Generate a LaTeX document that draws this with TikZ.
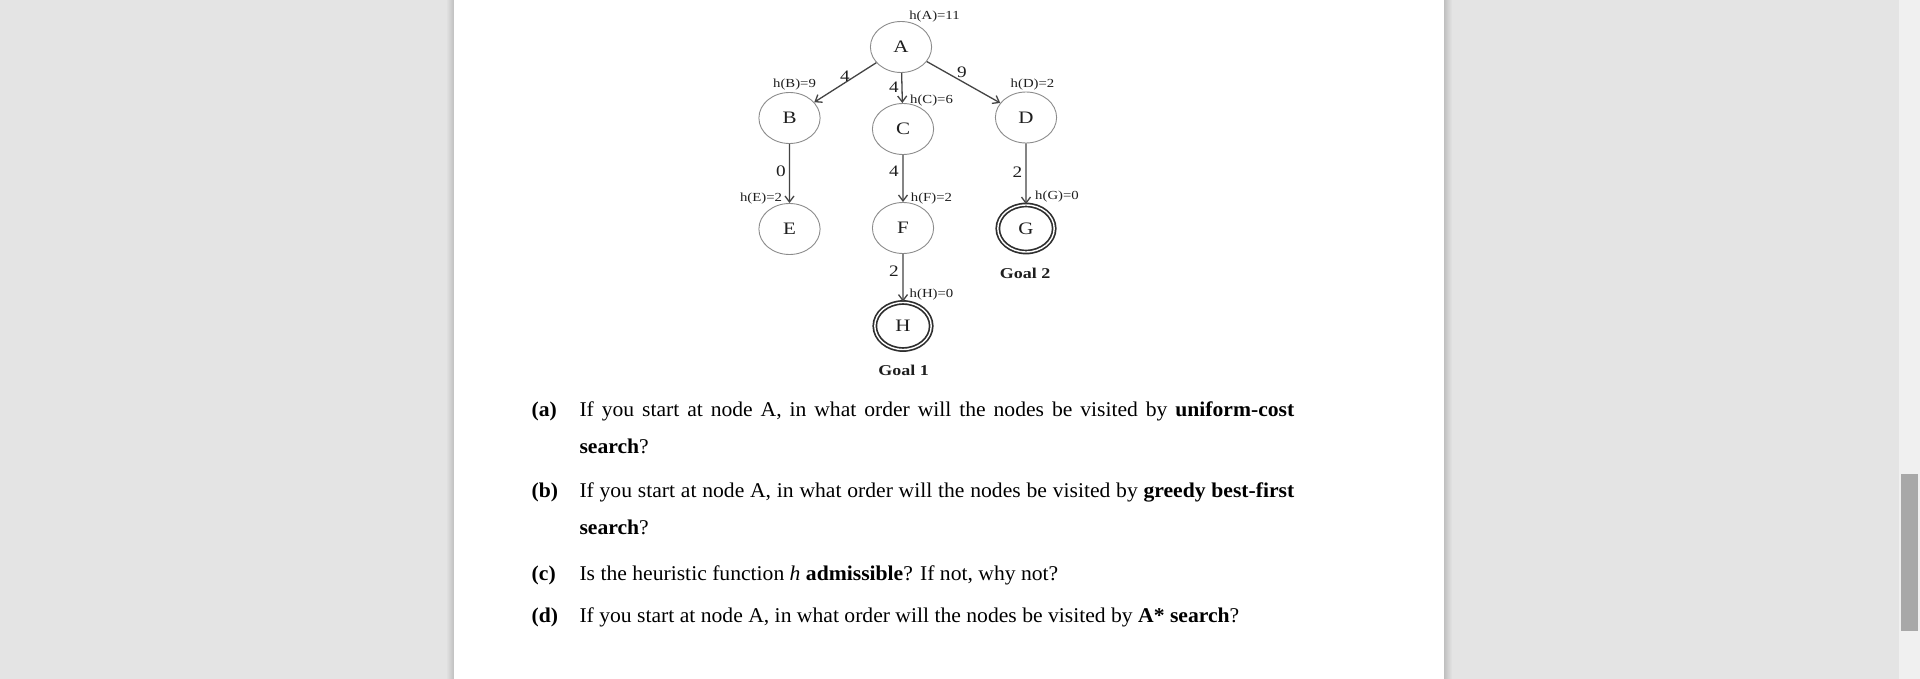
\documentclass[tikz,border=0pt]{standalone}
\usepackage{fontspec}
\setmainfont{Liberation Serif}
\usetikzlibrary{arrows.meta}
\definecolor{bg}{HTML}{E4E4E4}
\definecolor{track}{HTML}{F0F0F0}
\definecolor{thumb}{HTML}{A8A8A8}
\definecolor{nodegray}{HTML}{8C8C8C}
\definecolor{ringgray}{HTML}{2E2E2E}
\definecolor{edgegray}{HTML}{444444}
\definecolor{textgray}{HTML}{1E1E1E}
\tikzset{
  gnode/.style={circle, draw=nodegray, line width=0.9pt, minimum size=51pt, inner sep=0pt,
    font=\fontsize{17.5}{20}\selectfont, text=textgray, xscale=1.2},
  goalnode/.style={circle, draw=ringgray, line width=1.7pt, double=white, double distance=1.4pt,
    minimum size=47pt, inner sep=0pt, font=\fontsize{17.5}{20}\selectfont, text=textgray, xscale=1.2},
  hlab/.style={inner sep=0pt, font=\fontsize{12.3}{14}\selectfont, text=textgray, xscale=1.2},
  wlab/.style={inner sep=0pt, font=\fontsize{16}{18}\selectfont, text=textgray, xscale=1.2},
  goallab/.style={inner sep=0pt, font=\bfseries\fontsize{15}{18}\selectfont, text=textgray, xscale=1.2},
  edge/.style={draw=edgegray, line width=1.3pt, -{Straight Barb[length=6pt,width=9pt,line width=1.3pt]}},
  qtext/.style={anchor=base west, inner sep=0pt, font=\fontsize{21}{24}\selectfont, xscale=1.03}
}
\begin{document}
\begin{tikzpicture}[x=1pt,y=-1pt]
\useasboundingbox (0,0) rectangle (1920,679);
% viewer background
\fill[bg] (0,0) rectangle (1920,679);
\fill[track] (1899,0) rectangle (1920,679);
\fill[thumb] (1901,474) rectangle (1918,631);
\shade[left color=bg, right color=black!25] (446,0) rectangle (454,679);
\shade[left color=black!25, right color=bg] (1444,0) rectangle (1452,679);
\fill[white] (454,0) rectangle (1444,679);

% graph nodes
\node[gnode] (A) at (901,47) {A};
\node[gnode] (B) at (789.5,118) {B};
\node[gnode] (C) at (903,129) {C};
\node[gnode] (D) at (1026,117.5) {D};
\node[gnode] (E) at (789.5,229) {E};
\node[gnode] (F) at (903,228) {F};
\node[goalnode] (G) at (1026,228.5) {G};
\node[goalnode] (H) at (903,326) {H};

% edges
\draw[edge] (A) -- (B);
\draw[edge] (A) -- (C);
\draw[edge] (A) -- (D);
\draw[edge] (B) -- (E);
\draw[edge] (C) -- (F);
\draw[edge] (D) -- (G);
\draw[edge] (F) -- (H);

% edge costs
\node[wlab] (wAB) at (845,76) {4};
\node[wlab] (wAC) at (894,87.5) {4};
\node[wlab] (wAD) at (962,72.5) {9};
\node[wlab] (wBE) at (781,171) {0};
\node[wlab] (wCF) at (894,171) {4};
\node[wlab] (wDG) at (1017.5,172) {2};
\node[wlab] (wFH) at (894,271) {2};

% heuristic labels
\node[hlab] (hA) at (934.5,17) {h(A)=11};
\node[hlab] (hB) at (794.5,85) {h(B)=9};
\node[hlab] (hC) at (931.5,100.5) {h(C)=6};
\node[hlab] (hD) at (1032.5,85) {h(D)=2};
\node[hlab] (hE) at (761,198.5) {h(E)=2};
\node[hlab] (hF) at (931.5,198.5) {h(F)=2};
\node[hlab] (hG) at (1057,197) {h(G)=0};
\node[hlab] (hH) at (931.5,295) {h(H)=0};

% goal labels
\node[goallab] (g2) at (1025,273) {Goal 2};
\node[goallab] (g1) at (903.5,370) {Goal 1};

% questions
\node[qtext] (qa) at (531.5,416.7) {\textbf{(a)}};
\node[qtext] (qa1) at (579.3,416.7) {\makebox[694pt][s]{If you start at node A, in what order will the nodes be visited by \textbf{uniform-cost}}};
\node[qtext] (qa2) at (579.3,453.3) {\textbf{search}?};
\node[qtext] (qb) at (531.5,497.5) {\textbf{(b)}};
\node[qtext] (qb1) at (579.3,497.5) {\makebox[694pt][s]{If you start at node A, in what order will the nodes be visited by \textbf{greedy best-first}}};
\node[qtext] (qb2) at (579.3,534.4) {\textbf{search}?};
\node[qtext] (qc) at (531.5,580) {\textbf{(c)}};
\node[qtext] (qc1) at (579.3,580) {Is the heuristic function \textit{h} \textbf{admissible}? If not, why not?};
\node[qtext] (qd) at (531.5,622.7) {\textbf{(d)}};
\node[qtext] (qd1) at (579.3,622.7) {If you start at node A, in what order will the nodes be visited by \textbf{A* search}?};
\end{tikzpicture}
\end{document}
